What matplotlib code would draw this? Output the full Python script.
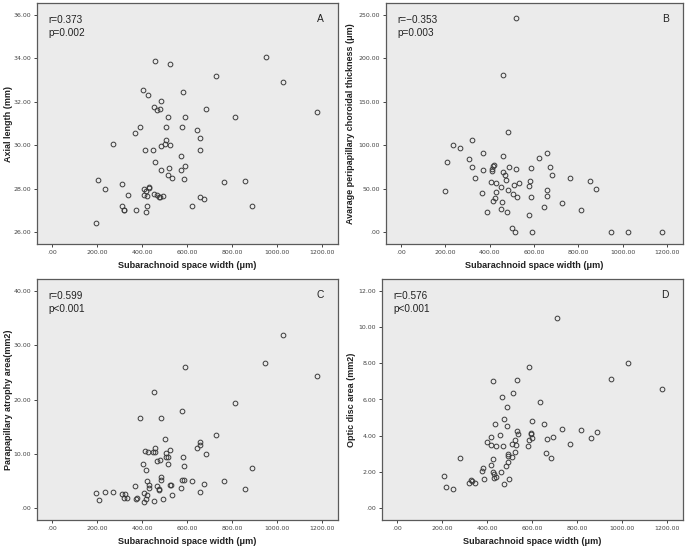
import matplotlib
matplotlib.use("Agg")
import matplotlib.pyplot as plt

# ---------------- data ----------------
x_label = "Subarachnoid space width (\u03bcm)"
x_ticks = [0, 200, 400, 600, 800, 1000, 1200]
x_ticklabels = [".00", "200.00", "400.00", "600.00", "800.00", "1000.00", "1200.00"]

# Panel A: axial length
a_x = [196, 205, 236, 270, 310, 310, 318, 321, 337, 370, 391, 374, 405, 426, 414, 448,
       408, 416, 429, 431, 408, 420, 420, 417, 454, 465, 480, 486, 459, 523, 517, 505,
       505, 500, 486, 523, 459, 486, 521, 515, 532, 454, 465, 475, 480, 492, 576, 582,
       593, 575, 590, 575, 587, 624, 646, 659, 659, 658, 676, 686, 729, 763, 815, 858,
       887, 950, 1026, 1179]
a_y = [26.42, 28.42, 28.00, 30.05, 28.23, 27.18, 27.00, 27.02, 27.72, 30.54, 30.82, 27.00,
       32.54, 32.31, 29.80, 29.80, 27.98, 27.91, 28.02, 28.06, 27.69, 27.65, 27.22, 26.91,
       31.78, 31.62, 31.66, 32.02, 33.89, 33.75, 31.28, 30.85, 30.22, 30.05, 29.97, 30.03,
       29.23, 28.88, 28.97, 28.63, 28.48, 27.75, 27.72, 27.62, 27.60, 27.66, 30.86, 32.46,
       31.32, 29.51, 29.03, 28.86, 28.46, 27.22, 30.68, 30.32, 29.77, 27.60, 27.51, 31.69,
       33.17, 28.32, 31.31, 28.37, 27.22, 34.08, 32.92, 31.54]
a_yticks = [26, 28, 30, 32, 34, 36]
a_yticklabels = ["26.00", "28.00", "30.00", "32.00", "34.00", "36.00"]

# Panel B: peripapillary choroidal thickness
b_x = [519, 459, 484, 235, 268, 319, 371, 462, 623, 657, 205, 308, 320, 368, 408, 411,
       415, 420, 462, 489, 520, 471, 474, 587, 674, 683, 335, 406, 430, 451, 511, 531,
       575, 581, 761, 854, 881, 196, 365, 429, 484, 504, 522, 587, 657, 657, 415, 457,
       424, 453, 388, 477, 645, 728, 812, 575, 502, 514, 591, 948, 1026, 1178]
b_y = [246.5, 181.2, 114.8, 100.1, 96.6, 105.5, 91.2, 87.3, 85.8, 90.8, 80.4, 83.8,
       74.6, 71.1, 70.7, 73.0, 76.1, 77.3, 69.6, 75.0, 72.6, 65.7, 60.3, 73.8, 75.4,
       65.3, 62.2, 57.6, 56.8, 51.4, 54.5, 56.8, 52.9, 59.1, 62.2, 58.7, 49.5, 46.8,
       44.4, 46.0, 48.7, 44.0, 40.6, 40.6, 48.3, 41.7, 35.5, 34.8, 39.0, 26.7, 23.2,
       22.8, 29.0, 33.6, 25.5, 19.3, 4.6, 0.0, 0.0, 0.0, 0.0, 0.0]
b_yticks = [0, 50, 100, 150, 200, 250]
b_yticklabels = [".00", "50.00", "100.00", "150.00", "200.00", "250.00"]

# Panel C: parapapillary atrophy area
c_x = [196, 206, 236, 270, 310, 322, 319, 334, 367, 371, 376, 391, 404, 416, 414, 426,
       408, 408, 417, 420, 422, 431, 431, 448, 459, 459, 454, 453, 465, 480, 465, 475,
       477, 486, 486, 486, 492, 502, 505, 505, 517, 517, 523, 523, 527, 533, 576, 581,
       585, 576, 588, 575, 593, 624, 646, 658, 659, 658, 676, 686, 729, 763, 815, 857,
       887, 949, 1026, 1179]
c_y = [2.70, 1.47, 2.94, 2.94, 2.58, 2.58, 1.84, 1.78, 3.99, 1.72, 1.90, 16.56, 8.04,
       6.99, 10.43, 10.25, 2.70, 1.04, 1.60, 2.39, 4.91, 4.23, 3.68, 10.37, 10.37, 10.98,
       21.47, 1.29, 8.71, 8.77, 4.11, 3.50, 3.31, 16.50, 5.77, 5.21, 1.60, 12.64, 10.12,
       9.39, 9.45, 8.16, 10.67, 4.23, 4.23, 2.33, 17.91, 9.33, 7.73, 5.15, 5.21, 3.74,
       26.01, 4.97, 10.98, 12.21, 11.53, 2.94, 4.36, 10.00, 13.37, 4.97, 19.33, 3.56,
       7.30, 26.81, 31.96, 24.42]
c_yticks = [0, 10, 20, 30, 40]
c_yticklabels = [".00", "10.00", "20.00", "30.00", "40.00"]

# Panel D: optic disc area
d_x = [207, 218, 247, 279, 319, 329, 332, 347, 378, 381, 384, 400, 416, 419, 417, 426,
       426, 428, 431, 432, 435, 440, 440, 459, 463, 465, 469, 473, 473, 484, 487, 487,
       492, 494, 495, 498, 509, 512, 515, 522, 525, 528, 531, 531, 539, 582, 585, 585,
       594, 597, 598, 601, 634, 653, 664, 666, 684, 692, 709, 735, 769, 819, 861, 889,
       953, 1029, 1179]
d_y = [1.77, 1.18, 1.03, 2.74, 1.38, 1.53, 1.47, 1.38, 2.04, 2.19, 1.62, 3.63, 3.90,
       3.46, 2.36, 2.72, 7.01, 1.99, 1.88, 1.67, 4.66, 3.41, 1.73, 4.03, 1.97, 6.15,
       3.41, 4.93, 1.31, 2.32, 5.60, 4.56, 3.00, 2.85, 2.54, 1.60, 2.82, 3.52, 6.37,
       3.09, 3.75, 3.50, 4.25, 7.09, 4.09, 3.41, 3.77, 7.77, 4.12, 4.16, 3.87, 4.82,
       5.85, 4.67, 3.02, 3.79, 2.78, 3.92, 10.53, 4.38, 3.52, 4.34, 3.87, 4.20, 7.16,
       7.99, 6.59]
d_yticks = [0, 2, 4, 6, 8, 10, 12]
d_yticklabels = [".00", "2.00", "4.00", "6.00", "8.00", "10.00", "12.00"]

panels = [
    dict(x=a_x, y=a_y, yt=a_yticks, ytl=a_yticklabels, ylim=(25.45, 36.55),
         ylabel="Axial length (mm)", r="r=0.373", p="p=0.002", tag="A",
         rect=(37, 3, 338, 244), ylx=-0.081),
    dict(x=b_x, y=b_y, yt=b_yticks, ytl=b_yticklabels, ylim=(-13.9, 263.9),
         ylabel="Avarage peripapillary choroidal thickness (\u03bcm)", r="r=\u22120.353",
         p="p=0.003", tag="B", rect=(386, 3, 683, 244), ylx=-0.104),
    dict(x=c_x, y=c_y, yt=c_yticks, ytl=c_yticklabels, ylim=(-2.2, 42.2),
         ylabel="Parapapillary atrophy area(mm2)", r="r=0.599", p="p<0.001", tag="C",
         rect=(37, 279, 338, 520), ylx=-0.081),
    dict(x=d_x, y=d_y, yt=d_yticks, ytl=d_yticklabels, ylim=(-0.66, 12.66),
         ylabel="Optic disc area (mm2)", r="r=0.576", p="p<0.001", tag="D",
         rect=(382, 279, 683, 520), ylx=-0.088),
]

W, H = 685, 546
fig = plt.figure(figsize=(W / 100, H / 100), dpi=100)
fig.patch.set_facecolor("white")

frame_col = "#5a5a5a"
for pn in panels:
    l, t, r, b = pn["rect"]
    ax = fig.add_axes([l / W, 1 - b / H, (r - l) / W, (b - t) / H])
    ax.set_facecolor("#ebebeb")
    ax.plot(pn["x"], pn["y"], linestyle="none", marker="o", markersize=3.4,
            markerfacecolor="none", markeredgecolor="#3a3a3a", markeredgewidth=0.7)
    ax.set_xlim(-68, 1272)
    ax.set_ylim(*pn["ylim"])
    ax.set_xticks(x_ticks)
    ax.set_xticklabels(x_ticklabels)
    ax.set_yticks(pn["yt"])
    ax.set_yticklabels(pn["ytl"])
    ax.tick_params(axis="both", direction="out", length=2.5, width=0.7,
                   colors="#444444", labelsize=4.5, pad=1.8)
    for s in ax.spines.values():
        s.set_color(frame_col)
        s.set_linewidth(0.9)
    ax.set_xlabel(x_label, fontsize=6.6, fontweight="bold", family="Liberation Sans",
                  color="#222222")
    ax.xaxis.set_label_coords(0.5, -0.072)
    ax.set_ylabel(pn["ylabel"], fontsize=6.5, fontweight="bold", family="Liberation Sans",
                  color="#222222")
    ax.yaxis.set_label_coords(pn["ylx"], 0.5)
    ax.text(0.037, 0.93, pn["r"], transform=ax.transAxes, fontsize=7.2,
            family="Liberation Sans", va="center", ha="left", color="#222222")
    ax.text(0.037, 0.875, pn["p"], transform=ax.transAxes, fontsize=7.2,
            family="Liberation Sans", va="center", ha="left", color="#222222")
    ax.text(0.94, 0.932, pn["tag"], transform=ax.transAxes, fontsize=7.4,
            family="Liberation Sans", va="center", ha="center", color="#222222")

fig.savefig("out.png", dpi=100)
